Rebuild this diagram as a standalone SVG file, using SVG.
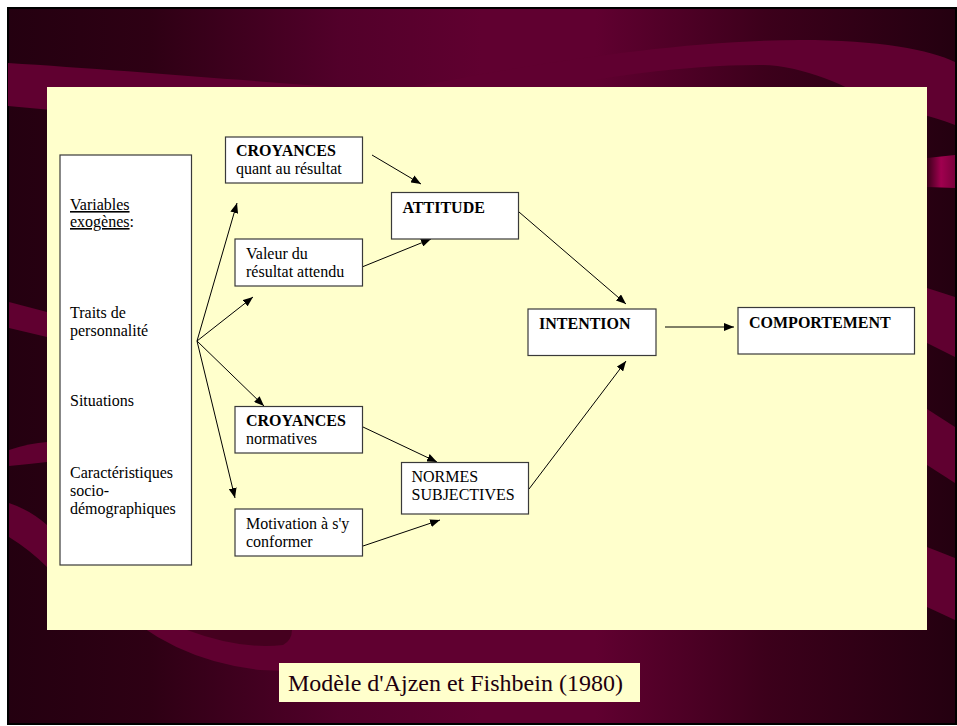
<svg xmlns="http://www.w3.org/2000/svg" width="957" height="726" viewBox="0 0 957 726">
<defs>
<linearGradient id="bg" x1="0" y1="0" x2="1" y2="0">
<stop offset="0" stop-color="#240010"/>
<stop offset="0.15" stop-color="#2e0014"/>
<stop offset="0.35" stop-color="#52002a"/>
<stop offset="0.5" stop-color="#600030"/>
<stop offset="0.62" stop-color="#600030"/>
<stop offset="0.8" stop-color="#3c001b"/>
<stop offset="1" stop-color="#240010"/>
</linearGradient>
<linearGradient id="bright" x1="0" y1="0" x2="1" y2="0">
<stop offset="0" stop-color="#3a001a"/>
<stop offset="0.5" stop-color="#a0004f"/>
<stop offset="1" stop-color="#7a003c"/>
</linearGradient>
<marker id="ah" viewBox="0 0 10 8" refX="10" refY="4" markerWidth="10" markerHeight="8" markerUnits="userSpaceOnUse" orient="auto">
<path d="M0,0 L10,4 L0,8 Z" fill="#000"/>
</marker>
<style>
.band{fill:#600030}
.box{fill:#fff;stroke:#3a3a3a;stroke-width:1.2}
.t{font-family:"Liberation Serif","Times New Roman",serif;font-size:16px;fill:#000}
.b{font-weight:bold}
.conn line{stroke:#000;stroke-width:1;marker-end:url(#ah)}
</style>
</defs>
<g id="background">
<rect x="0" y="0" width="957" height="726" fill="#fff"/>
<rect x="8" y="8" width="948" height="716" fill="url(#bg)" stroke="#000" stroke-width="2"/>
<path class="band" d="M8,63 C120,70 260,82 380,90 L380,140 L8,106 Z"/>
<path class="band" d="M400,90 C520,65 680,40 800,40 C880,40 930,50 955,62 L955,125 C930,115 905,110 880,108 C850,85 800,65 760,65 C680,65 600,78 540,90 Z"/>
<path fill="url(#bright)" d="M927,158 L955,155 L955,188 L927,187 Z"/>
<path class="band" d="M927,288 L955,297 L955,357 L927,343 Z"/>
<path class="band" d="M927,409 L955,427 L955,483 L927,465 Z"/>
<path class="band" d="M927,547 L955,558 L955,620 L927,607 Z"/>
<path class="band" d="M9,302 L47,312 L47,337 L9,328 Z"/>
<path class="band" d="M9,450 Q30,443 47,442 L47,462 Q30,464 9,466 Z"/>
<path class="band" d="M9,503 Q30,510 47,525 L47,567 Q30,550 9,537 Z"/>
<path class="band" d="M110,600 Q170,660 260,670 Q380,676 520,664 L520,600 Z"/>
<path fill="#45001f" d="M187,630 Q240,650 283,645 Q292,640 292,630 Z"/>
<rect x="47" y="87" width="880" height="543" fill="#FFFFCC"/>
<rect x="279" y="663" width="361" height="39" fill="#FFFFCC"/>
<text x="288" y="691" style="font-family:'Liberation Serif','Times New Roman',serif;font-size:24px;fill:#1e000e">Modèle d'Ajzen et Fishbein (1980)</text>
</g>
<g class="conn" id="connectors">
<line x1="197" y1="341" x2="237" y2="203"/>
<line x1="197" y1="341" x2="253" y2="297"/>
<line x1="197" y1="341" x2="264" y2="406"/>
<line x1="197" y1="341" x2="235" y2="498"/>
<line x1="372" y1="155" x2="421" y2="184"/>
<line x1="362" y1="267" x2="431" y2="239"/>
<line x1="519" y1="212" x2="626" y2="304"/>
<line x1="529" y1="489" x2="626" y2="361"/>
<line x1="665" y1="327" x2="734" y2="327"/>
<line x1="363" y1="427" x2="437" y2="462"/>
<line x1="363" y1="546" x2="440" y2="520"/>
</g>
<g id="exogenes">
<rect class="box" x="60" y="155" width="131.5" height="410"/>
<text class="t" x="70" y="210"><tspan text-decoration="underline">Variables</tspan></text>
<text class="t" x="70" y="227"><tspan text-decoration="underline">exogènes</tspan>:</text>
<text class="t" x="70" y="318">Traits de</text>
<text class="t" x="70" y="336">personnalité</text>
<text class="t" x="70" y="406">Situations</text>
<text class="t" x="70" y="478">Caractéristiques</text>
<text class="t" x="70" y="496">socio-</text>
<text class="t" x="70" y="514">démographiques</text>
</g>
<g id="croyances-resultat">
<rect class="box" x="225.5" y="137" width="137" height="46"/>
<text class="t b" x="236" y="156">CROYANCES</text>
<text class="t" x="236" y="173.5">quant au résultat</text>
</g>
<g id="valeur">
<rect class="box" x="235" y="239" width="127.5" height="47"/>
<text class="t" x="246" y="258.5">Valeur du</text>
<text class="t" x="246" y="276.5">résultat attendu</text>
</g>
<g id="attitude">
<rect class="box" x="391.5" y="192.5" width="127" height="46.5"/>
<text class="t b" x="402.5" y="212.5">ATTITUDE</text>
</g>
<g id="intention">
<rect class="box" x="528" y="309" width="128" height="46.5"/>
<text class="t b" x="539" y="328.5">INTENTION</text>
</g>
<g id="comportement">
<rect class="box" x="738" y="307.5" width="176.5" height="46.5"/>
<text class="t b" x="749" y="327.5">COMPORTEMENT</text>
</g>
<g id="croyances-normatives">
<rect class="box" x="235" y="406.5" width="127.5" height="46.5"/>
<text class="t b" x="246" y="426">CROYANCES</text>
<text class="t" x="246" y="443.5">normatives</text>
</g>
<g id="normes">
<rect class="box" x="401.5" y="462.5" width="127" height="51.5"/>
<text class="t" x="411.5" y="482">NORMES</text>
<text class="t" x="411.5" y="499.5">SUBJECTIVES</text>
</g>
<g id="motivation">
<rect class="box" x="235" y="509" width="127.5" height="47"/>
<text class="t" x="246" y="529">Motivation à s'y</text>
<text class="t" x="246" y="546.5">conformer</text>
</g>
</svg>
